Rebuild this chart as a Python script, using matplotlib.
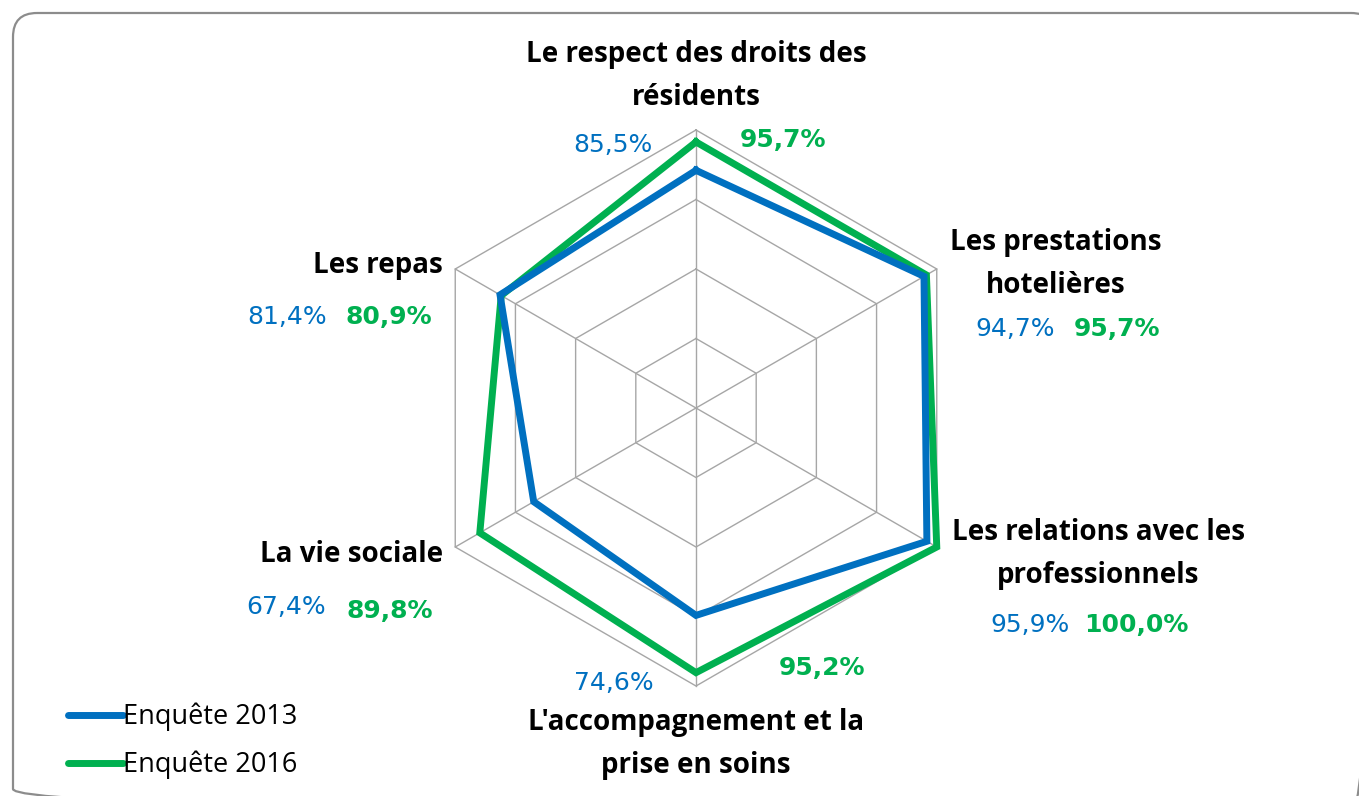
import numpy as np
import matplotlib
matplotlib.use("Agg")
import matplotlib.pyplot as plt
from matplotlib.patches import FancyBboxPatch

categories = ["Le respect des droits des\nrésidents",
              "Les prestations\nhotelières",
              "Les relations avec les\nprofessionnels",
              "L'accompagnement et la\nprise en soins",
              "La vie sociale",
              "Les repas"]
series_names = ["Enquête 2013", "Enquête 2016"]
values_2013 = [85.5, 94.7, 95.9, 74.6, 67.4, 81.4]
values_2016 = [95.7, 95.7, 100.0, 95.2, 89.8, 80.9]
grid_levels = [25, 50, 75, 100]

BLUE = "#0070C0"
GREEN = "#00B050"
W, H = 1359, 796
CX, CY, R = 696, 408, 278  # centre and outer radius in pixels

fig = plt.figure(figsize=(W / 100, H / 100), dpi=100)

# background axes in pixel units for the rounded frame
bg = fig.add_axes([0, 0, 1, 1])
bg.set_xlim(0, W)
bg.set_ylim(H, 0)
bg.axis("off")
frame = FancyBboxPatch((13, 13), 1362, 800,
                       boxstyle="round,pad=0,rounding_size=24",
                       fill=False, edgecolor="#8c8c8c", linewidth=1.6)
bg.add_patch(frame)

ax = fig.add_axes([0, 0, 1, 1])
ax.set_xlim(-CX / R * 100, (W - CX) / R * 100)
ax.set_ylim(-(H - CY) / R * 100, CY / R * 100)
ax.axis("off")

n = len(categories)
theta = np.arange(n) * 2 * np.pi / n


def to_xy(vals):
    vals = np.asarray(vals, dtype=float)
    x = vals * np.sin(theta)
    y = vals * np.cos(theta)
    return np.append(x, x[0]), np.append(y, y[0])


# hexagonal grid
for lev in grid_levels:
    gx, gy = to_xy([lev] * n)
    ax.plot(gx, gy, color="#a6a6a6", lw=1.0, zorder=1)
for t in theta:
    ax.plot([0, 100 * np.sin(t)], [0, 100 * np.cos(t)], color="#a6a6a6", lw=1.0, zorder=1)

bx, by = to_xy(values_2013)
gx, gy = to_xy(values_2016)
l1, = ax.plot(bx, by, color=BLUE, lw=5, zorder=3, solid_joinstyle="miter")
l2, = ax.plot(gx, gy, color=GREEN, lw=5, zorder=2, solid_joinstyle="miter")


def fmt(v):
    return f"{v:.1f}%".replace(".", ",")


def ftext(x, y, s, **kw):
    fig.text(x / W, 1 - y / H, s, **kw)


cat_kw = dict(family="Open Sans", fontweight="bold", fontsize=20, color="black",
              linespacing=1.62, va="center")
pct_kw = dict(family="DejaVu Sans", fontsize=18, va="center")

# category label positions (pixels) and value label positions
ftext(696, 76, categories[0], ha="center", **cat_kw)
ftext(1056, 264, categories[1], ha="center", **cat_kw)
ftext(1098, 554, categories[2], ha="center", **cat_kw)
ftext(696, 744, categories[3], ha="center", **cat_kw)
ftext(443, 555, categories[4], ha="right", **cat_kw)
ftext(443, 265, categories[5], ha="right", **cat_kw)

pos_2013 = [(613, 145), (1015, 329), (1030, 625), (614, 683), (286, 607), (287, 317)]
pos_2016 = [(783, 140), (1117, 329), (1136, 625), (822, 668), (390, 611), (389, 317)]
for v, (x, y) in zip(values_2013, pos_2013):
    ftext(x, y, fmt(v), ha="center", color=BLUE, **pct_kw)
for v, (x, y) in zip(values_2016, pos_2016):
    ftext(x, y, fmt(v), ha="center", color=GREEN, fontweight="bold", **pct_kw)

leg = fig.legend([l1, l2], series_names, loc="upper left",
                 bbox_to_anchor=(49 / W, 1 - 684 / H), frameon=False,
                 handlelength=2.05, handletextpad=0.0, labelspacing=0.72,
                 borderpad=0.2, prop=dict(family="Open Sans", size=19.5))
for h in leg.get_lines():
    h.set_solid_capstyle("round")

fig.savefig("out.png", dpi=100)
